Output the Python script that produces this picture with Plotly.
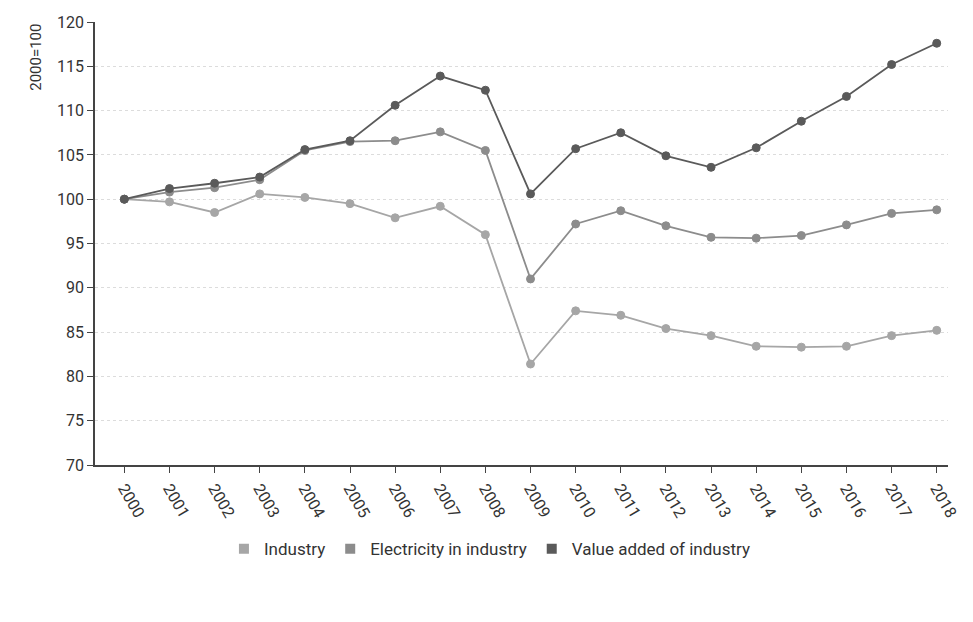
import plotly.graph_objects as go

# Index values, 2000 = 100
years = [str(y) for y in range(2000, 2019)]
industry = [100, 99.7, 98.5, 100.6, 100.2, 99.5, 97.9, 99.2, 96.0, 81.4, 87.4,
            86.9, 85.4, 84.6, 83.4, 83.3, 83.4, 84.6, 85.2]
electricity = [100, 100.8, 101.3, 102.2, 105.5, 106.5, 106.6, 107.6, 105.5, 91.0, 97.2,
               98.7, 97.0, 95.7, 95.6, 95.9, 97.1, 98.4, 98.8]
value_added = [100, 101.2, 101.8, 102.5, 105.6, 106.6, 110.6, 113.9, 112.3, 100.6, 105.7,
               107.5, 104.9, 103.6, 105.8, 108.8, 111.6, 115.2, 117.6]

names = ["Industry", "Electricity in industry", "Value added of industry"]
series = [industry, electricity, value_added]
colors = ["#a6a6a6", "#8c8c8c", "#5a5a5a"]

fig = go.Figure()
for name, vals, col in zip(names, series, colors):
    fig.add_trace(go.Scatter(
        x=years, y=vals, mode="lines+markers", name=name, showlegend=False,
        line=dict(color=col, width=1.8),
        marker=dict(color=col, size=8, line=dict(color=col, width=1)),
    ))

# square swatches for the legend
for name, col in zip(names, colors):
    fig.add_trace(go.Scatter(
        x=[None], y=[None], mode="markers", name=name,
        marker=dict(symbol="square", color=col, size=10),
    ))

fig.update_layout(
    width=973, height=622,
    margin=dict(l=95, r=25, t=22, b=157),
    paper_bgcolor="white", plot_bgcolor="white",
    font=dict(family="Roboto, Arial, sans-serif", color="#333333", size=15),
    legend=dict(orientation="h", x=0.463, xanchor="center", y=-0.19, yanchor="middle",
                font=dict(size=17), itemwidth=30, traceorder="normal"),
    xaxis=dict(
        type="category", range=[-0.65, 18.25],
        showline=True, linecolor="#444444", linewidth=1.5,
        ticks="outside", ticklen=6, tickcolor="#444444",
        tickangle=60, showgrid=False, zeroline=False,
        tickfont=dict(size=16),
    ),
    yaxis=dict(
        range=[70, 120], dtick=5, tick0=70,
        showline=True, linecolor="#444444", linewidth=1.5,
        ticks="outside", ticklen=6, tickcolor="#444444",
        showgrid=True, gridcolor="#dcdcdc", griddash="dot", gridwidth=1,
        zeroline=False, tickfont=dict(size=16),
    ),
    annotations=[dict(
        text="2000=100", xref="paper", yref="paper", x=-0.07, y=1.0,
        xanchor="center", yanchor="top", textangle=-90, showarrow=False,
        font=dict(size=15, color="#333333"),
    )],
)

fig.write_html("out.html")
